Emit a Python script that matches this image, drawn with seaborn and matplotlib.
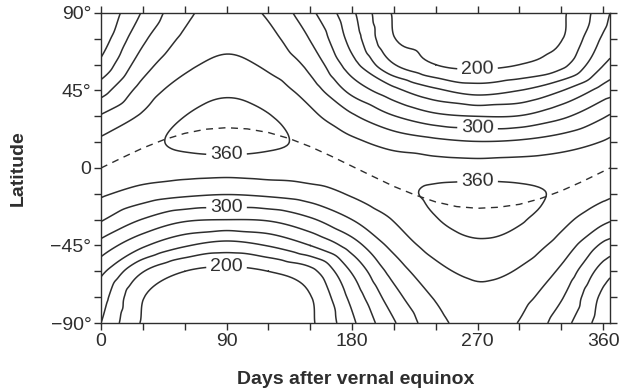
import numpy as np
import matplotlib
matplotlib.use("Agg")
import matplotlib.pyplot as plt
import matplotlib.tri as mtri
import seaborn as sns

# days after vernal equinox (columns) and latitudes (rows, south to north)
days = [0, 30, 60, 90, 120, 150, 180, 210, 240, 270, 300, 330, 360]
lats = [-90, -75, -60, -45, -30, -15, 0, 15, 30, 45, 60, 75, 90]

# field values, one row per latitude
row_90s = [240, 198, 190, 187, 188, 197, 236, 278, 313, 328, 319, 289, 248]
row_75s = [249, 201, 193, 189, 191, 199, 246, 292, 322, 335, 327, 302, 255]
row_60s = [265, 221, 200, 195, 200, 214, 262, 308, 334, 344, 338, 316, 271]
row_45s = [292, 263, 242, 232, 241, 260, 290, 326, 348, 357, 351, 332, 296]
row_30s = [322, 299, 283, 280, 282, 297, 320, 341, 359, 366, 362, 346, 325]
row_15s = [343, 331, 324, 321, 324, 330, 342, 354, 363, 366, 364, 357, 345]
row_eq = [352, 351, 350, 349, 350, 352, 352, 352, 350, 349, 350, 351, 352]
row_15n = [343, 355, 363, 366, 363, 356, 344, 332, 325, 321, 323, 330, 341]
row_30n = [322, 343, 360, 366, 361, 345, 323, 301, 285, 280, 281, 296, 318]
row_45n = [292, 328, 349, 357, 350, 330, 294, 266, 244, 232, 240, 259, 288]
row_60n = [265, 311, 335, 344, 336, 314, 268, 221, 200, 195, 200, 214, 259]
row_75n = [249, 296, 324, 335, 326, 299, 252, 201, 193, 189, 191, 199, 243]
row_90n = [240, 282, 315, 328, 317, 285, 244, 198, 190, 187, 188, 197, 232]

plain_levels = [220, 240, 260, 280, 320, 340]
label_levels = [200, 300, 360]

# dashed line: latitude of the overhead sun
sun_days = [0, 15, 30, 45, 60, 75, 90, 105, 120, 135, 150, 165, 180,
            195, 210, 225, 240, 255, 270, 285, 300, 315, 330, 345, 360, 365]
sun_lat = [0, 5.9, 11.6, 16.4, 20.1, 22.5, 23.4, 22.7, 20.6, 17.1, 12.4, 6.9, 1.0,
           -4.9, -10.7, -15.6, -19.7, -22.4, -23.4, -22.8, -21.1, -17.8, -13.3, -7.9, -2.0, 0]

sns.set_style("ticks")
plt.rcParams["font.family"] = ["Liberation Sans", "DejaVu Sans"]
ink = "#2e2e2e"

Z = np.array([row_90s, row_75s, row_60s, row_45s, row_30s, row_15s, row_eq,
              row_15n, row_30n, row_45n, row_60n, row_75n, row_90n], dtype=float)
# wrap: day 365 is the next vernal equinox, same as day 0
Z = np.column_stack([Z, Z[:, 0]])
xd = np.array(days + [365], dtype=float)

# refine in index space so the cubic interpolation sees a square grid
xi = xd / 30.0
yi = np.arange(len(lats), dtype=float)
XI, YI = np.meshgrid(xi, yi)
tri = mtri.Triangulation(XI.ravel(), YI.ravel())
interp = mtri.CubicTriInterpolator(tri, Z.ravel(), kind="geom")
refiner = mtri.UniformTriRefiner(tri)
tri_r, z_r = refiner.refine_field(Z.ravel(), triinterpolator=interp, subdiv=4)
tri_plot = mtri.Triangulation(tri_r.x * 30.0, tri_r.y * 15.0 - 90.0, tri_r.triangles)

fig = plt.figure(figsize=(6.33, 3.91), dpi=100)
ax = fig.add_axes([0.1596, 0.1739, 0.8041, 0.7929])

ax.tricontour(tri_plot, z_r, levels=plain_levels, colors=ink, linewidths=1.1)
cs = ax.tricontour(tri_plot, z_r, levels=label_levels, colors=ink, linewidths=1.1)
ax.clabel(cs, fmt="%d", inline=True, fontsize=14, colors=ink, inline_spacing=4,
          manual=[(90, -57), (90, -23), (90, 7), (270, 56), (270, 23), (270, -5)])

sns.lineplot(x=sun_days, y=sun_lat, ax=ax, color=ink, lw=1.0,
             linestyle=(0, (5, 4)), estimator=None, sort=False)

ax.set_xlim(0, 365)
ax.set_ylim(-90, 90)
ax.set_xticks([0, 90, 180, 270, 360])
ax.set_xticks(np.arange(30, 361, 30), minor=True)
ax.set_yticks([-90, -45, 0, 45, 90])
ax.set_yticklabels(["\u221290\u00b0", "\u221245\u00b0", "0", "45\u00b0", "90\u00b0"])
ax.set_yticks(np.arange(-75, 90, 15), minor=True)
ax.tick_params(which="both", direction="out", length=5, width=1.0, color=ink,
               top=True, right=True, labelsize=14, labelcolor=ink, pad=2)
for s in ax.spines.values():
    s.set_color(ink)
    s.set_linewidth(1.0)
ax.set_xlabel("Days after vernal equinox", fontsize=14, fontweight="bold", color=ink, labelpad=15)
ax.set_ylabel("Latitude", fontsize=14, fontweight="bold", color=ink, labelpad=17)

fig.savefig("out.png", dpi=100)
